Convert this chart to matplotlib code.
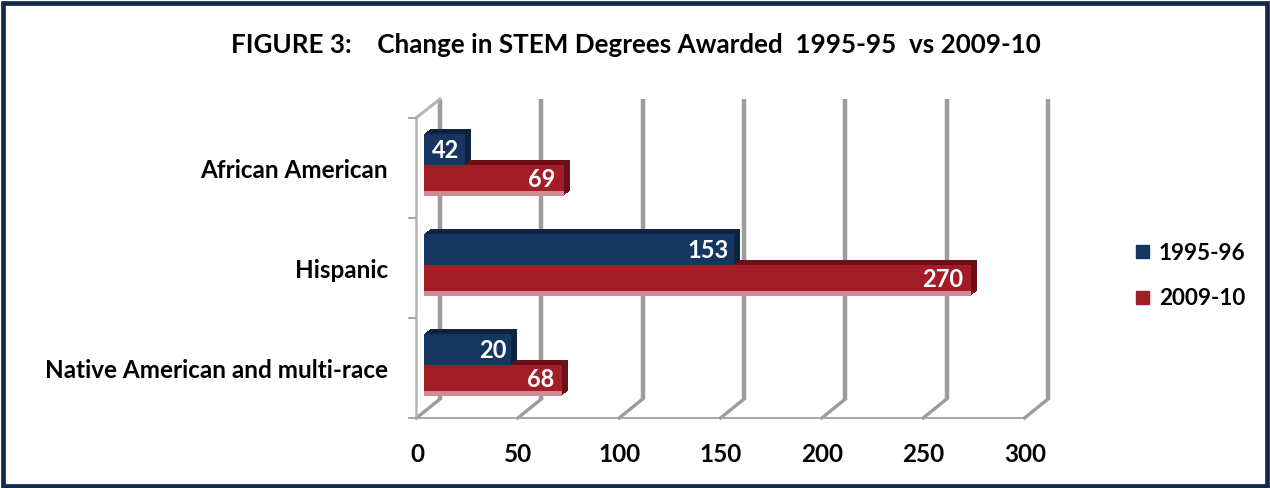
import numpy as np
import matplotlib
matplotlib.use('Agg')
import matplotlib.pyplot as plt
from matplotlib.patches import Patch, Rectangle

plt.rcParams['font.family'] = ['Lato', 'DejaVu Sans']
plt.rcParams['font.weight'] = 'bold'

# data
categories = ['African American', 'Hispanic', 'Native American and multi-race']
series = ['1995-96', '2009-10']
# bar lengths as drawn (the 1995-96 labels of two bars do not match their lengths)
len_9596 = [20, 153, 43]
len_0910 = [69, 270, 68]
lbl_9596 = ['42', '153', '20']
lbl_0910 = ['69', '270', '68']
xticks = [0, 50, 100, 150, 200, 250, 300]

blue, blue_dark = '#15365e', '#0d2341'
red, red_dark = '#a21d26', '#6c0f16'
pink = '#d48a93'
grid_c = '#9c9c9c'

W, H = 1270, 488
fig = plt.figure(figsize=(W / 100, H / 100), dpi=100)
# axes = front plane of the 3d box
ax = fig.add_axes([417 / W, (H - 418) / H, 608 / W, 300 / H])
ax.set_xlim(0, 300)
ax.set_ylim(2.5, -0.5)
for s in ax.spines.values():
    s.set_visible(False)

# pixel -> data
px = 300 / 608
py = 3 / 300
DX, DY = 23 * px, -19 * py      # depth of the box
bx, by = 7 * px, -3 * py        # bars sit a bit behind the front

# back gridlines with floor diagonals
for v in xticks:
    ax.plot([v + DX, v + DX], [-0.5 + DY, 2.5 + DY], color=grid_c, lw=3.2, zorder=1,
            clip_on=False, solid_capstyle='butt')
    ax.plot([v - 0.5 * px, v + DX], [2.5, 2.5 + DY], color=grid_c, lw=2.4, zorder=1,
            clip_on=False)
# left wall edge and floor edge
ax.plot([-1 * px, -1 * px], [-0.5, 2.5], color='#b5b5b5', lw=1.8, zorder=1, clip_on=False)
ax.plot([-1 * px, DX], [-0.5, -0.5 + DY], color='#b5b5b5', lw=2.2, zorder=1, clip_on=False)
ax.plot([-1 * px, 300], [2.5, 2.5], color='#a0a0a0', lw=1.3, zorder=1, clip_on=False)
for yt in [-0.5, 0.5, 1.5, 2.5]:
    ax.plot([-8 * px, -1 * px], [yt, yt], color='#a0a0a0', lw=1.3, zorder=1, clip_on=False)

y = np.arange(len(categories))
h = 0.31
steps = 6

def bars(vals, y0, col, dark, z):
    for k in range(steps, 0, -1):
        ax.barh(y0 - k * 0.85 * py, vals, left=bx + k * px, height=h, align='edge',
                color=dark, zorder=z)
    ax.barh(y0, vals, left=bx, height=h, align='edge', color=col, zorder=z + 0.5)

# red (2009-10) first, blue above it drawn after
y_red = y + by
y_blue = y + by - h
bars(len_0910, y_red, red, red_dark, 3)
for i, v in enumerate(len_0910):
    ax.add_patch(Rectangle((bx, y_red[i] + h - 0.05), v, 0.05, color=pink, zorder=3.6,
                           lw=0))
bars(len_9596, y_blue, blue, blue_dark, 4)

lab_fs = 17
for i in range(len(categories)):
    ax.text(bx + len_9596[i] - 5 * px, y_blue[i] + h / 2 + 0.01, lbl_9596[i], ha='right',
            va='center', color='white', fontsize=lab_fs, fontweight='bold', zorder=6)
    ax.text(bx + len_0910[i] - 8 * px, y_red[i] + h / 2 - 0.01, lbl_0910[i], ha='right',
            va='center', color='white', fontsize=lab_fs, fontweight='bold', zorder=6)

ax.set_xticks(xticks)
ax.set_xticklabels([str(t) for t in xticks], fontsize=17.5, fontweight='bold')
ax.set_yticks(y)
ax.set_yticklabels(categories, fontsize=17.5, fontweight='bold')
ax.tick_params(axis='x', length=0, pad=18)
ax.tick_params(axis='y', length=0, pad=21)

handles = [Patch(color=blue), Patch(color=red)]
fig.legend(handles, series, loc='center left', bbox_to_anchor=(1116 / W, 1 - 276 / H),
           frameon=False, handlelength=0.55, handleheight=0.55,
           handletextpad=0.45, labelspacing=1.1, prop={'weight': 'bold', 'size': 16.2})

fig.text(0.501, 1 - 45 / H,
         'FIGURE 3:    Change in STEM Degrees Awarded  1995-95  vs 2009-10',
         ha='center', va='center', fontsize=18.7, fontweight='bold')

fig.patches.append(Rectangle((2.5 / W, 2.5 / H), (W - 6) / W, (H - 5) / H,
                             transform=fig.transFigure, fill=False,
                             edgecolor='#13284a', lw=3.4))

fig.savefig('out.png', dpi=100)
